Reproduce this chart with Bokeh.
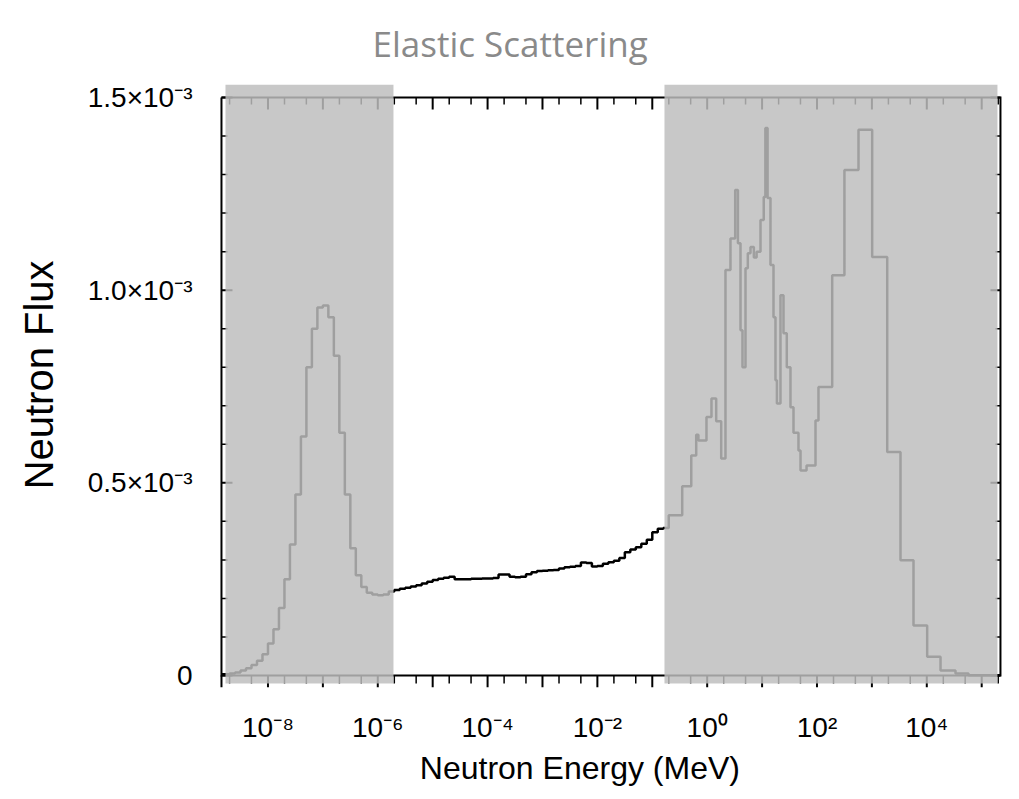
import math
from bokeh.plotting import figure
from bokeh.models import FixedTicker, BoxAnnotation, Range1d
from bokeh.embed import file_html
from bokeh.resources import INLINE

# ---------------- data (energy bin edges as log10(E / MeV), flux in units of 1e-3) ----------------
thermal_edges_log = [-8.85, -8.7, -8.6, -8.5, -8.4, -8.3, -8.2, -8.1, -8.0, -7.9, -7.8, -7.7, -7.6,
                     -7.5, -7.4, -7.3, -7.2, -7.1, -7.0, -6.9, -6.8, -6.7, -6.6, -6.5, -6.4, -6.3,
                     -6.2, -6.1, -6.0, -5.9, -5.8, -5.7]
thermal_flux_e3 = [0.003, 0.005, 0.008, 0.013, 0.019, 0.027, 0.038, 0.055, 0.083, 0.12, 0.175, 0.25,
                   0.34, 0.47, 0.62, 0.80, 0.90, 0.955, 0.96, 0.93, 0.83, 0.63, 0.47, 0.33, 0.26,
                   0.23, 0.215, 0.21, 0.208, 0.21, 0.218]

epithermal_edges_log = [-5.7, -5.6, -5.5, -5.4, -5.3, -5.2, -5.1, -5.0, -4.9, -4.8, -4.7, -4.6, -4.5,
                        -4.4, -4.3, -4.2, -4.1, -4.0, -3.9, -3.8, -3.7, -3.6, -3.5, -3.4, -3.3, -3.2,
                        -3.1, -3.0, -2.9, -2.8, -2.7, -2.6, -2.5, -2.4, -2.3, -2.2, -2.1, -2.0, -1.9,
                        -1.8, -1.7, -1.6, -1.5, -1.4, -1.3, -1.2, -1.1, -1.0, -0.9, -0.8]
epithermal_flux_e3 = [0.222, 0.225, 0.228, 0.231, 0.234, 0.239, 0.243, 0.248, 0.251, 0.254,
                      0.256, 0.250, 0.250, 0.250, 0.251, 0.251, 0.252, 0.252, 0.253, 0.262,
                      0.262, 0.256, 0.255, 0.256, 0.263, 0.268, 0.271, 0.272, 0.273, 0.274,
                      0.278, 0.281, 0.282, 0.284, 0.293, 0.292, 0.283, 0.284, 0.290, 0.294,
                      0.298, 0.305, 0.320, 0.327, 0.333, 0.342, 0.352, 0.372, 0.381]

fast_edges_log = [-0.8, -0.70, -0.455, -0.29, -0.20, -0.16, -0.013, 0.078, 0.164, 0.255, 0.333,
                  0.424, 0.51, 0.56, 0.607, 0.643, 0.698, 0.74, 0.789, 0.85, 0.90, 0.971, 1.03,
                  1.06, 1.10, 1.153, 1.208, 1.244, 1.27, 1.335, 1.39, 1.45, 1.517, 1.572, 1.663,
                  1.70, 1.81, 1.973, 2.027, 2.277, 2.50, 2.756, 3.005, 3.279, 3.521, 3.758, 4.007,
                  4.25, 4.523, 4.76, 5.34]
fast_flux_e3 = [0.383, 0.416, 0.491, 0.571, 0.625, 0.610, 0.671, 0.719, 0.660, 0.563, 1.052,
                1.134, 1.260, 1.122, 0.896, 0.80, 1.057, 1.096, 1.112, 1.085, 1.10, 1.182, 1.242,
                1.421, 1.239, 1.065, 0.930, 0.766, 0.706, 0.987, 0.888, 0.80, 0.696, 0.630, 0.584,
                0.532, 0.545, 0.662, 0.749, 1.039, 1.312, 1.416, 1.086, 0.580, 0.299, 0.130, 0.049,
                0.013, 0.005, 0.001]

x_major_exponents = [-8, -7, -6, -5, -4, -3, -2, -1, 0, 1, 2, 3, 4, 5]
x_labelled_exponents = [-8, -6, -4, -2, 0, 2, 4]
x_minor_mantissas = [2, 5]

y_major_ticks = [0.0, 0.0005, 0.001, 0.0015]
y_major_labels = ["0", "0.5×10⁻³", "1.0×10⁻³", "1.5×10⁻³"]
y_minor_ticks = [0.0001, 0.0002, 0.0003, 0.0004, 0.0006, 0.0007, 0.0008, 0.0009,
                 0.0011, 0.0012, 0.0013, 0.0014]

title_text = "Elastic Scattering"
x_title = "Neutron Energy  (MeV)"
y_title = "Neutron Flux"

# ---------------- layout constants ----------------
BOX_X_LOG = (-8.847, 5.342)          # plot box left/right (where the frame lines are drawn)
VIEW_X_LOG = (-8.883, 5.379)         # visible range (slightly wider so frame lines are not clipped)
Y_TOP, Y_BOT = 1.5e-3, 0.0           # plot box top / bottom
VIEW_Y = (-0.0311e-3, 1.5337e-3)     # visible range (shading extends above the frame)
PX_PER_DECADE = 54.9
PX_PER_FLUX = 385.3e3                # pixels per unit flux
SHADE_BANDS_LOG = [(-8.774, -5.714), (-0.778, 5.287)]
SHADE_Y = (-0.021e-3, 1.5337e-3)
FRAME_LEFT, FRAME_BOTTOM = 219, 687  # canvas pixels of the frame corner

# ---------------- assemble ----------------
edges_log = thermal_edges_log + epithermal_edges_log[1:] + fast_edges_log[1:]
flux_e3 = thermal_flux_e3 + epithermal_flux_e3 + fast_flux_e3
edges = [10.0 ** e for e in edges_log]
flux = [v * 1e-3 for v in flux_e3]
step_y = flux + [flux[-1]]

FONT = "Liberation Sans"

p = figure(width=1011, height=791, x_axis_type="log",
           x_range=Range1d(10 ** VIEW_X_LOG[0], 10 ** VIEW_X_LOG[1]),
           y_range=Range1d(*VIEW_Y),
           output_backend="svg", toolbar_location=None,
           min_border_left=FRAME_LEFT, min_border_right=9, min_border_top=84,
           min_border_bottom=791 - FRAME_BOTTOM)
p.background_fill_color = "white"
p.border_fill_color = "white"
p.outline_line_color = None
p.grid.visible = False

# spectrum
p.step(x=edges, y=step_y, mode="after", line_color="black", line_width=2.5)

# ---------------- frame and tick marks ----------------
xlo, xhi = 10 ** BOX_X_LOG[0], 10 ** BOX_X_LOG[1]
x_major = [10.0 ** e for e in x_major_exponents]
x_minor = [m * 10.0 ** e for e in range(-9, 6) for m in x_minor_mantissas
           if BOX_X_LOG[0] < e + math.log10(m) < BOX_X_LOG[1]]

p.line(x=[xlo, xhi, xhi, xlo, xlo], y=[Y_TOP, Y_TOP, Y_BOT, Y_BOT, Y_TOP],
       line_color="black", line_width=2, line_join="miter")
p.segment(x0=[xlo], y0=[Y_BOT], x1=[xlo], y1=[VIEW_Y[0]], line_color="black", line_width=2)

def px_y(n):
    return n / PX_PER_FLUX

def px_x_factor(n):
    return 10 ** (n / PX_PER_DECADE)

# bottom ticks (outward), top ticks (inward)
p.segment(x0=x_major, y0=[Y_BOT] * len(x_major), x1=x_major, y1=[Y_BOT - px_y(12)] * len(x_major),
          line_color="black", line_width=2)
p.segment(x0=x_minor, y0=[Y_BOT] * len(x_minor), x1=x_minor, y1=[Y_BOT - px_y(8)] * len(x_minor),
          line_color="black", line_width=1.5)
p.segment(x0=x_major, y0=[Y_TOP] * len(x_major), x1=x_major, y1=[Y_TOP - px_y(12)] * len(x_major),
          line_color="black", line_width=2)
p.segment(x0=x_minor, y0=[Y_TOP] * len(x_minor), x1=x_minor, y1=[Y_TOP - px_y(7)] * len(x_minor),
          line_color="black", line_width=1.5)
# left / right ticks (inward)
p.segment(x0=[xlo] * 4, y0=y_major_ticks, x1=[xlo * px_x_factor(11)] * 4, y1=y_major_ticks,
          line_color="black", line_width=2)
p.segment(x0=[xlo] * len(y_minor_ticks), y0=y_minor_ticks,
          x1=[xlo * px_x_factor(6)] * len(y_minor_ticks), y1=y_minor_ticks,
          line_color="black", line_width=1.5)
p.segment(x0=[xhi] * 4, y0=y_major_ticks, x1=[xhi / px_x_factor(10)] * 4, y1=y_major_ticks,
          line_color="black", line_width=2)
p.segment(x0=[xhi] * len(y_minor_ticks), y0=y_minor_ticks,
          x1=[xhi / px_x_factor(5)] * len(y_minor_ticks), y1=y_minor_ticks,
          line_color="black", line_width=1.5)

# ---------------- axes (labels only) ----------------
def sup(e):
    return "".join("⁰¹²³⁴⁵⁶⁷⁸⁹"[int(c)] if c.isdigit() else "⁻" for c in str(e))

x_label_map = {10.0 ** e: ("10" + sup(e) if e in x_labelled_exponents else "") for e in x_major_exponents}

def labels_only(ax):
    ax.axis_line_color = None
    ax.major_tick_line_color = None
    ax.minor_tick_line_color = None
    ax.major_tick_in = 0
    ax.major_tick_out = 0
    ax.minor_tick_in = 0
    ax.minor_tick_out = 0

xa = p.xaxis[0]
xa.ticker = FixedTicker(ticks=x_major)
xa.major_label_overrides = x_label_map
labels_only(xa)
xa.major_label_text_font = FONT
xa.major_label_text_font_size = "28px"
xa.major_label_text_color = "black"
xa.major_label_standoff = 24
# trailing no-break spaces move the centred label to the left, as in the original
xa.axis_label = x_title + "\u00a0" * 6
xa.axis_label_text_font = FONT
xa.axis_label_text_font_size = "32px"
xa.axis_label_text_font_style = "normal"
xa.axis_label_text_color = "black"
xa.axis_label_standoff = 4

ya = p.yaxis[0]
ya.ticker = FixedTicker(ticks=y_major_ticks)
ya.major_label_overrides = dict(zip(y_major_ticks, y_major_labels))
labels_only(ya)
ya.major_label_text_font = FONT
ya.major_label_text_font_size = "28px"
ya.major_label_text_color = "black"
ya.major_label_standoff = 27
# leading no-break spaces move the centred (rotated) label slightly upwards
ya.axis_label = "\u00a0" * 2 + y_title
ya.axis_label_text_font = FONT
ya.axis_label_text_font_size = "40px"
ya.axis_label_text_font_style = "normal"
ya.axis_label_text_color = "black"
ya.axis_label_standoff = 24

# ---------------- shaded (excluded) energy bands, drawn over line, frame and ticks ----------------
for lo, hi in SHADE_BANDS_LOG:
    p.add_layout(BoxAnnotation(left=10 ** lo, right=10 ** hi, bottom=SHADE_Y[0], top=SHADE_Y[1],
                               fill_color="#bebebe", fill_alpha=0.84, line_color=None,
                               level="overlay"))

# title
p.title.text = title_text
p.title.text_font = "Open Sans"
p.title.text_font_size = "35px"
p.title.text_font_style = "normal"
p.title.text_color = "#8a8a8a"
p.title.align = "left"
p.title.offset = 153
p.title.vertical_align = "top"
p.title.standoff = 32

open("out.html", "w").write(file_html(p, INLINE))
